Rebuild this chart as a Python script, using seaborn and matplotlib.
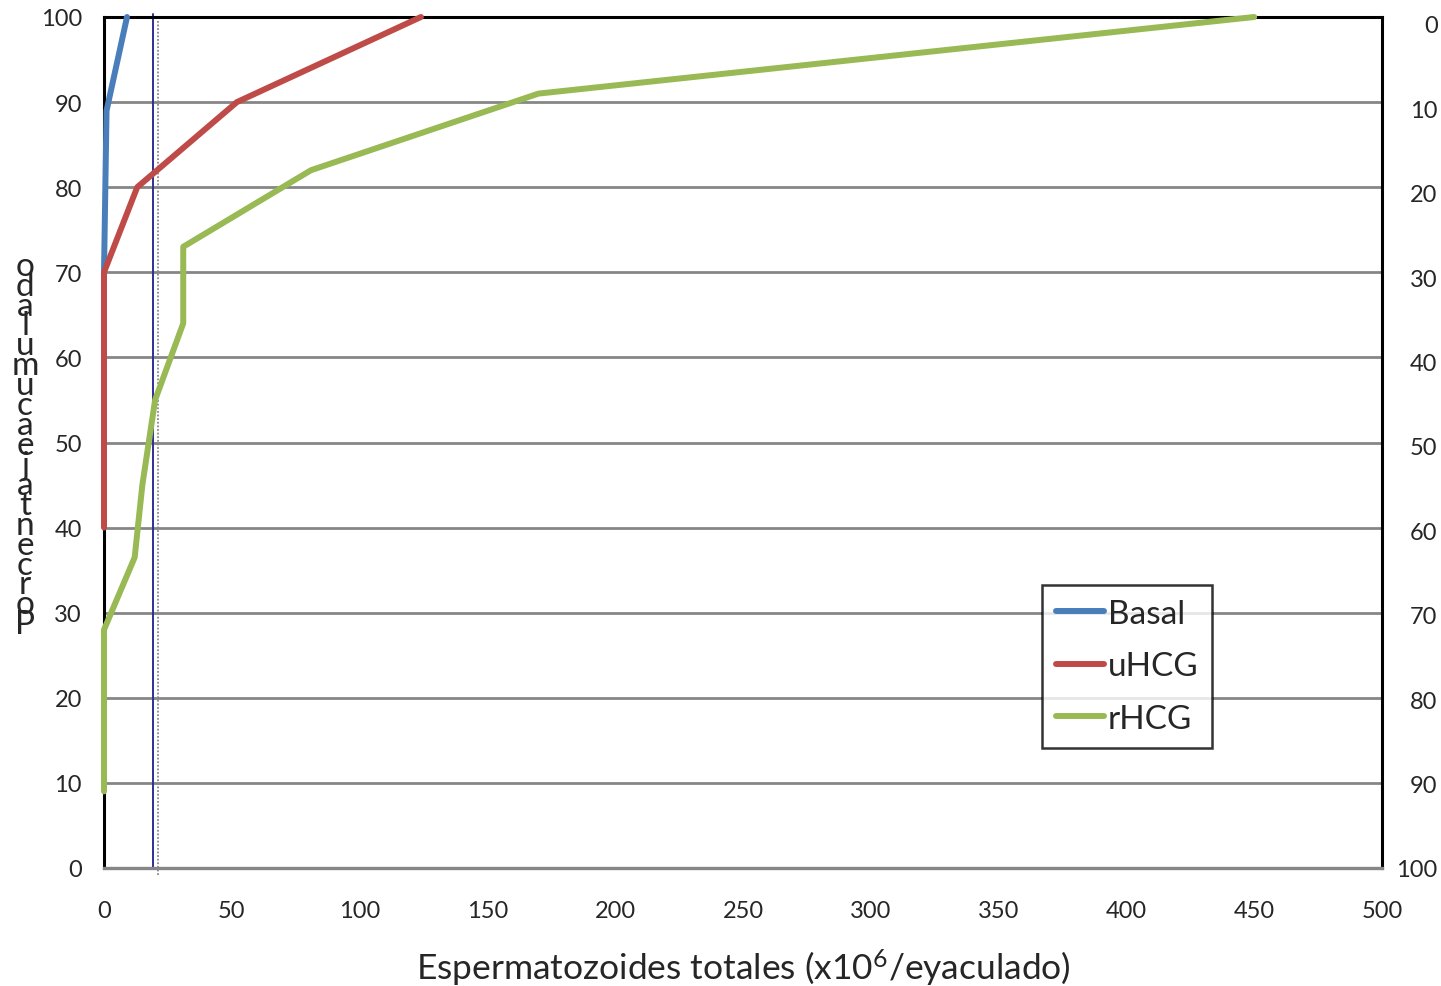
import pandas as pd
import numpy as np
import matplotlib
matplotlib.use("Agg")
import matplotlib.pyplot as plt
import seaborn as sns
from matplotlib.ticker import MultipleLocator

# cumulative curves (x = total sperm count, y = cumulative %)
basal_x = [0, 0, 1, 9]
basal_y = [45, 70, 89, 100]
uhcg_x = [0, 0, 13, 52, 124]
uhcg_y = [40, 70, 80, 90, 100]
rhcg_x = [0, 0, 12, 15, 20, 31, 31, 81, 170, 450]
rhcg_y = [9, 28, 36.5, 45, 55, 64, 73, 82, 91, 100]

groups = ["Basal", "uHCG", "rHCG"]
colors = ["#4a7ebb", "#be4b48", "#98b954"]
ref_blue = 19
ref_dotted = 21

left_ticks = list(range(0, 101, 10))
x_ticks = list(range(0, 501, 50))
ylabel = "Porcentaje acumulado"
xlabel = "Espermatozoides totales (x10$^{6}$/eyaculado)"

df = pd.concat([
    pd.DataFrame({"x": basal_x, "y": basal_y, "grupo": "Basal"}),
    pd.DataFrame({"x": uhcg_x, "y": uhcg_y, "grupo": "uHCG"}),
    pd.DataFrame({"x": rhcg_x, "y": rhcg_y, "grupo": "rHCG"}),
], ignore_index=True)

sns.set_style("white")
plt.rcParams["font.family"] = ["Lato", "DejaVu Sans"]
plt.rcParams["mathtext.fontset"] = "custom"
plt.rcParams["mathtext.rm"] = "Lato"
plt.rcParams["mathtext.it"] = "Lato"

GRID = "#868686"
LW = 4.3

fig = plt.figure(figsize=(14.41, 9.87), dpi=100)
ax = fig.add_axes([104 / 1441, 1 - 869 / 987, 1278 / 1441, 851 / 987])

ax.set_xlim(0, 500)
ax.set_ylim(0, 100)
ax.set_yticks(left_ticks)
ax.set_xticks(x_ticks)
ax.xaxis.set_minor_locator(MultipleLocator(10))
for v in left_ticks[1:-1]:
    ax.axhline(v, color=GRID, lw=2, zorder=1)

ax.axvline(ref_dotted, ymin=-0.008, ymax=0.997, color="#8a8a8a", lw=1.3,
           ls=(0, (1, 1)), clip_on=False, zorder=2)
ax.axvline(ref_blue, ymin=0, ymax=1.004, color="#2e3192", lw=1.4,
           clip_on=False, zorder=2)

sns.lineplot(data=df, x="x", y="y", hue="grupo", hue_order=groups,
             palette=colors, sort=False, estimator=None, units="grupo",
             lw=LW, ax=ax, zorder=4)
for line in ax.get_lines()[2:]:
    line.set_clip_on(False)

for side in ["left", "top", "right"]:
    ax.spines[side].set_color("black")
    ax.spines[side].set_linewidth(2.2)
ax.spines["bottom"].set_color(GRID)
ax.spines["bottom"].set_linewidth(2.4)

ax.tick_params(axis="x", which="major", direction="in", length=8, width=1.8,
               color=GRID, labelsize=17, pad=23)
ax.tick_params(axis="x", which="minor", direction="in", length=5, width=1.8,
               color=GRID)
ax.tick_params(axis="y", length=0, labelsize=17, pad=16)
ax.set_xlabel(xlabel, fontsize=25.5, labelpad=19)
ax.set_ylabel("")

ax2 = ax.twinx()
ax2.set_ylim(99.5, -0.8)
ax2.set_yticks(left_ticks)
ax2.tick_params(axis="y", length=0, labelsize=17, pad=40)
for lbl in ax2.get_yticklabels():
    lbl.set_horizontalalignment("right")
for s in ax2.spines.values():
    s.set_visible(False)

# stacked vertical letters on the left
fig.text(25 / 1441, 1 - 446 / 987, "\n".join(ylabel.replace(" ", "")[::-1]),
         ha="center", va="center", fontsize=24, linespacing=0.58)

leg = ax.legend(loc="upper left", bbox_to_anchor=(0.734, 0.333), borderaxespad=0,
                fontsize=24, frameon=True, fancybox=False, handlelength=1.45,
                handletextpad=0.1, labelspacing=0.68, borderpad=0.42)
leg.get_frame().set_edgecolor("black")
leg.get_frame().set_linewidth(1.8)
for line in leg.get_lines():
    line.set_linewidth(LW)
leg.set_zorder(5)

fig.savefig("out.png", dpi=100)
